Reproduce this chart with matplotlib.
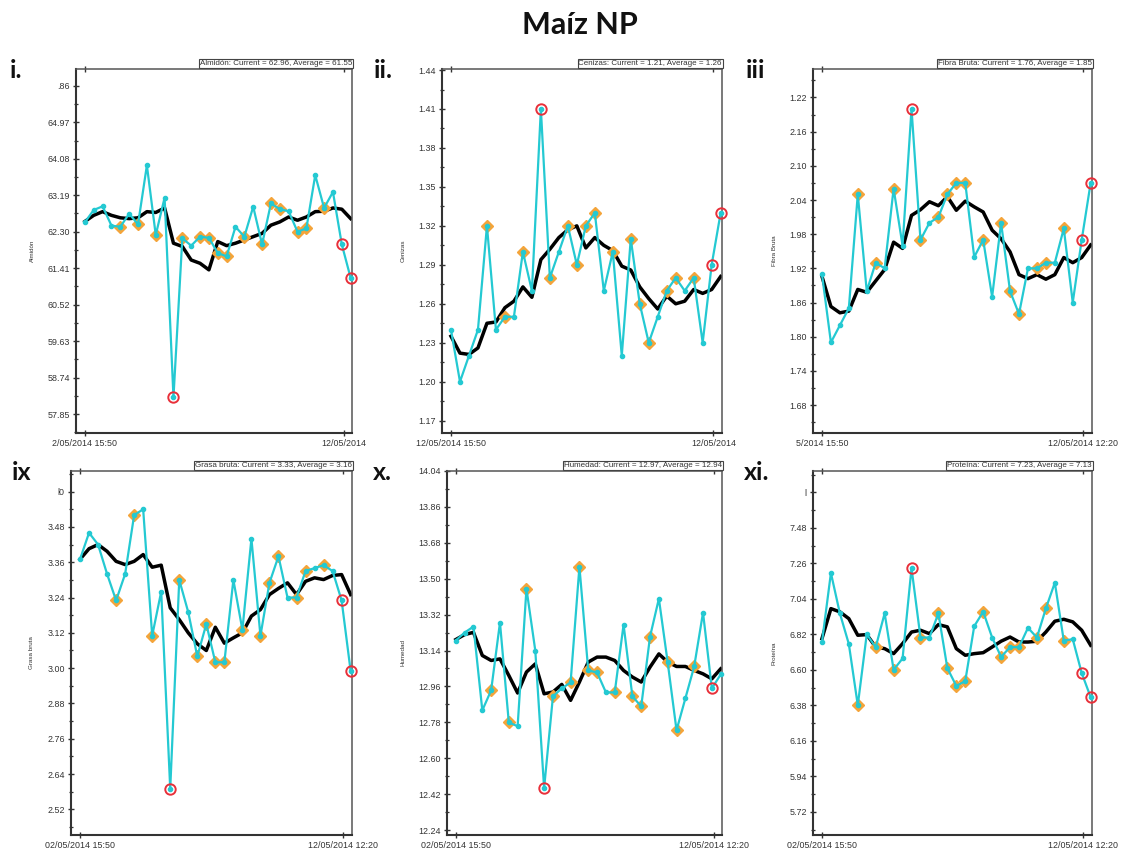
import numpy as np
import matplotlib
matplotlib.use("Agg")
import matplotlib.pyplot as plt
from matplotlib.ticker import AutoMinorLocator

#------------------------------------------------------------------------------#
# Data (31 samples per panel)

almidon      = [62.53, 62.83, 62.92, 62.45, 62.42, 62.74, 62.48, 63.92, 62.22, 63.13,
                58.26, 62.14, 61.96, 62.18, 62.15, 61.78, 61.70, 62.42, 62.18, 62.91,
                61.99, 62.99, 62.85, 62.80, 62.30, 62.38, 63.68, 62.88, 63.27, 61.99,
                61.17]
almidonAvg   = [62.55, 62.70, 62.79, 62.70, 62.64, 62.62, 62.64, 62.79, 62.77, 62.88,
                62.02, 61.94, 61.61, 61.53, 61.37, 62.06, 61.96, 62.02, 62.10, 62.18,
                62.26, 62.46, 62.54, 62.66, 62.58, 62.66, 62.79, 62.80, 62.88, 62.85,
                62.62]
almidonDia   = [4, 6, 8, 11, 13, 14, 15, 16, 18, 20, 21, 22, 24, 25, 27]
almidonRed   = [10, 29, 30]

cenizas      = [1.24, 1.20, 1.22, 1.24, 1.32, 1.24, 1.25, 1.25, 1.30, 1.27,
                1.41, 1.28, 1.30, 1.32, 1.29, 1.32, 1.33, 1.27, 1.30, 1.22,
                1.31, 1.26, 1.23, 1.25, 1.27, 1.28, 1.27, 1.28, 1.23, 1.29,
                1.33]
cenizasAvg   = [1.235, 1.222, 1.221, 1.226, 1.245, 1.246, 1.257, 1.262, 1.273, 1.265,
                1.294, 1.302, 1.311, 1.317, 1.320, 1.303, 1.311, 1.305, 1.301, 1.289,
                1.286, 1.273, 1.264, 1.256, 1.266, 1.260, 1.262, 1.271, 1.268, 1.271,
                1.281]
cenizasDia   = [4, 6, 8, 11, 13, 14, 15, 16, 18, 20, 21, 22, 24, 25, 27]
cenizasRed   = [10, 29, 30]

fibra        = [1.91, 1.79, 1.82, 1.85, 2.05, 1.88, 1.93, 1.92, 2.06, 1.96,
                2.20, 1.97, 2.00, 2.01, 2.05, 2.07, 2.07, 1.94, 1.97, 1.87,
                2.00, 1.88, 1.84, 1.92, 1.92, 1.93, 1.93, 1.99, 1.86, 1.97,
                2.07]
fibraAvg     = [1.906, 1.853, 1.842, 1.845, 1.883, 1.878, 1.898, 1.918, 1.966, 1.955,
                2.013, 2.023, 2.037, 2.030, 2.046, 2.022, 2.038, 2.028, 2.019, 1.987,
                1.972, 1.949, 1.909, 1.902, 1.909, 1.901, 1.909, 1.939, 1.930, 1.939,
                1.961]
fibraDia     = [4, 6, 8, 11, 13, 14, 15, 16, 18, 20, 21, 22, 24, 25, 27]
fibraRed     = [10, 29, 30]

grasa        = [3.37, 3.46, 3.42, 3.32, 3.23, 3.32, 3.52, 3.54, 3.11, 3.26,
                2.59, 3.30, 3.19, 3.04, 3.15, 3.02, 3.02, 3.30, 3.13, 3.44,
                3.11, 3.29, 3.38, 3.24, 3.24, 3.33, 3.34, 3.35, 3.33, 3.23,
                2.99]
grasaAvg     = [3.370, 3.406, 3.420, 3.397, 3.363, 3.352, 3.363, 3.386, 3.343, 3.350,
                3.205, 3.165, 3.120, 3.083, 3.060, 3.139, 3.085, 3.103, 3.120, 3.177,
                3.199, 3.250, 3.271, 3.290, 3.250, 3.295, 3.307, 3.301, 3.315, 3.318,
                3.250]
grasaDia     = [4, 6, 8, 11, 13, 14, 15, 16, 18, 20, 21, 22, 24, 25, 27]
grasaRed     = [10, 29, 30]

humedad      = [13.19, 13.23, 13.26, 12.84, 12.94, 13.28, 12.78, 12.76, 13.45, 13.14,
                12.45, 12.91, 12.95, 12.98, 13.56, 13.04, 13.03, 12.93, 12.93, 13.27,
                12.91, 12.86, 13.21, 13.40, 13.08, 12.74, 12.90, 13.06, 13.33, 12.95,
                13.02]
humedadAvg   = [13.195, 13.220, 13.231, 13.115, 13.090, 13.098, 13.015, 12.927, 13.032, 13.073,
                12.923, 12.932, 12.970, 12.890, 12.982, 13.082, 13.107, 13.107, 13.090, 13.040,
                13.007, 12.982, 13.057, 13.123, 13.082, 13.060, 13.060, 13.040, 13.023, 12.998,
                13.048]
humedadDia   = [4, 6, 8, 11, 13, 14, 15, 16, 18, 20, 21, 22, 24, 25, 27]
humedadRed   = [10, 29]

proteina     = [6.77, 7.20, 6.95, 6.76, 6.38, 6.82, 6.74, 6.95, 6.60, 6.67,
                7.23, 6.80, 6.80, 6.95, 6.61, 6.50, 6.53, 6.87, 6.96, 6.80,
                6.68, 6.74, 6.74, 6.86, 6.80, 6.98, 7.14, 6.78, 6.79, 6.58,
                6.43]
proteinaAvg  = [6.793, 6.979, 6.959, 6.917, 6.814, 6.818, 6.741, 6.731, 6.700, 6.762,
                6.834, 6.845, 6.824, 6.880, 6.866, 6.731, 6.690, 6.700, 6.706, 6.741,
                6.777, 6.803, 6.772, 6.772, 6.777, 6.834, 6.901, 6.913, 6.897, 6.845,
                6.752]
proteinaDia  = [4, 6, 8, 11, 13, 14, 15, 16, 18, 20, 21, 22, 24, 25, 27]
proteinaRed  = [10, 29, 30]

# Axis ticks / labels as shown
almidonTicks   = [65.86, 64.97, 64.08, 63.19, 62.30, 61.41, 60.52, 59.63, 58.74, 57.85]
almidonLabels  = [".86", "64.97", "64.08", "63.19", "62.30", "61.41", "60.52", "59.63", "58.74", "57.85"]
cenizasTicks   = [1.44, 1.41, 1.38, 1.35, 1.32, 1.29, 1.26, 1.23, 1.20, 1.17]
cenizasLabels  = ["1.44", "1.41", "1.38", "1.35", "1.32", "1.29", "1.26", "1.23", "1.20", "1.17"]
fibraTicks     = [2.22, 2.16, 2.10, 2.04, 1.98, 1.92, 1.86, 1.80, 1.74, 1.68]
fibraLabels    = ["1.22", "2.16", "2.10", "2.04", "1.98", "1.92", "1.86", "1.80", "1.74", "1.68"]
grasaTicks     = [3.60, 3.48, 3.36, 3.24, 3.12, 3.00, 2.88, 2.76, 2.64, 2.52]
grasaLabels    = ["l0", "3.48", "3.36", "3.24", "3.12", "3.00", "2.88", "2.76", "2.64", "2.52"]
humedadTicks   = [14.04, 13.86, 13.68, 13.50, 13.32, 13.14, 12.96, 12.78, 12.60, 12.42, 12.24]
humedadLabels  = ["14.04", "13.86", "13.68", "13.50", "13.32", "13.14", "12.96", "12.78", "12.60", "12.42", "12.24"]
proteinaTicks  = [7.70, 7.48, 7.26, 7.04, 6.82, 6.60, 6.38, 6.16, 5.94, 5.72]
proteinaLabels = ["l", "7.48", "7.26", "7.04", "6.82", "6.60", "6.38", "6.16", "5.94", "5.72"]

xLabelsTop    = [["2/05/2014 15:50", "12/05/2014"],
                 ["12/05/2014 15:50", "12/05/2014"],
                 ["5/2014 15:50", "12/05/2014 12:20"]]
xLabelsBottom = [["02/05/2014 15:50", "12/05/2014 12:20"],
                 ["02/05/2014 15:50", "12/05/2014 12:20"],
                 ["02/05/2014 15:50", "12/05/2014 12:20"]]

#------------------------------------------------------------------------------#

CYAN   = "#24C9D2"
ORANGE = "#F4A43A"
RED    = "#E8303A"

plt.rcParams['font.family'] = ['Liberation Sans', 'DejaVu Sans']


def draw_panel(fig, rect, vals, avg, dia, red, yticks, ylabels, ylim,
               xlabels, name, legend, tag, tagX, ylabX):

    ax = fig.add_axes(rect)
    x  = np.arange(len(vals))
    v  = np.array(vals)

    ax.plot(x, avg, color='black', lw=2.5, zorder=2)
    ax.plot(x[dia], v[dia], ls='none', marker='D', ms=6.3, color=ORANGE,
            zorder=3, clip_on=False)
    ax.plot(x, v, color=CYAN, lw=1.6, marker='o', ms=3, zorder=4,
            clip_on=False)
    ax.plot(x[red], v[red], ls='none', marker='o', ms=7.5, mfc='none',
            mec=RED, mew=1.4, zorder=5, clip_on=False)

    ax.set_xlim(-1, 30.15)
    ax.set_ylim(*ylim)

    ax.set_yticks(yticks, ylabels)
    ax.yaxis.set_minor_locator(AutoMinorLocator(2))
    ax.set_xticks([0, 29.2], xlabels)

    ax.tick_params(axis='both', which='major', direction='inout', length=5,
                   width=1.0, labelsize=6.4, labelcolor='#333333', color='#333333',
                   top=True, right=False, pad=2)
    ax.tick_params(axis='y', which='minor', direction='inout', length=3,
                   width=0.9, color='#333333', right=False)

    for side in ['left', 'bottom']:
        ax.spines[side].set_linewidth(1.5)
        ax.spines[side].set_color('#333333')
    for side in ['top', 'right']:
        ax.spines[side].set_linewidth(1.1)
        ax.spines[side].set_color('#555555')

    ax.set_ylabel(name, fontsize=4.5, color='#333333')
    ax.yaxis.set_label_coords(ylabX, 0.5)

    ax.text(1.0, 1.006, legend, transform=ax.transAxes, ha='right', va='bottom',
            fontsize=5.8, color='#333333',
            bbox=dict(boxstyle='square,pad=0.12', fc='white', ec='#444444', lw=0.8))

    fig.text(tagX, rect[1] + rect[3] + 0.012, tag, fontsize=18, fontweight='bold',
             family=['Lato', 'DejaVu Sans'], va='top', ha='left', color='#111111')

    return ax

#------------------------------------------------------------------------------#

fig = plt.figure(figsize=(11.21, 8.52), dpi=100)
fig.patch.set_facecolor('white')

H    = 364 / 852
yTop = 1 - 433 / 852
yBot = 1 - 835 / 852

draw_panel(fig, [76/1121, yTop, 276/1121, H], almidon, almidonAvg, almidonDia,
           almidonRed, almidonTicks, almidonLabels, (57.39, 66.27), xLabelsTop[0],
           "Almidón", "Almidón: Current = 62.96, Average = 61.55", "i.", 10/1121, -0.15)

draw_panel(fig, [442/1121, yTop, 280/1121, H], cenizas, cenizasAvg, cenizasDia,
           cenizasRed, cenizasTicks, cenizasLabels, (1.1605, 1.4408), xLabelsTop[1],
           "Cenizas", "Cenizas: Current = 1.21, Average = 1.26", "ii.", 374/1121, -0.13)

draw_panel(fig, [813/1121, yTop, 279/1121, H], fibra, fibraAvg, fibraDia,
           fibraRed, fibraTicks, fibraLabels, (1.631, 2.27), xLabelsTop[2],
           "Fibra Bruta", "Fibra Bruta: Current = 1.76, Average = 1.85", "iii", 746/1121, -0.13)

draw_panel(fig, [71/1121, yBot, 281/1121, H], grasa, grasaAvg, grasaDia,
           grasaRed, grasaTicks, grasaLabels, (2.433, 3.67), xLabelsBottom[0],
           "Grasa bruta", "Grasa bruta: Current = 3.33, Average = 3.16", "ix", 12/1121, -0.13)

draw_panel(fig, [447/1121, yBot, 275/1121, H], humedad, humedadAvg, humedadDia,
           humedadRed, humedadTicks, humedadLabels, (12.215, 14.04), xLabelsBottom[1],
           "Humedad", "Humedad: Current = 12.97, Average = 12.94", "x.", 373/1121, -0.15)

draw_panel(fig, [813/1121, yBot, 279/1121, H], proteina, proteinaAvg, proteinaDia,
           proteinaRed, proteinaTicks, proteinaLabels, (5.576, 7.832), xLabelsBottom[2],
           "Proteína", "Proteína: Current = 7.23, Average = 7.13", "xi.", 744/1121, -0.13)

fig.text(580/1121, 1 - 25/852, "Maíz NP", ha='center', va='center', fontsize=22,
         fontweight='bold', family=['Lato', 'DejaVu Sans'], color='#111111')

fig.savefig("out.png", dpi=100)
